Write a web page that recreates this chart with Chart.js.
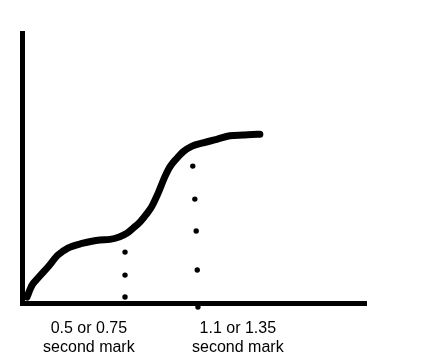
<!DOCTYPE html>
<html>
<head>
<meta charset="utf-8">
<script src="https://cdn.jsdelivr.net/npm/chart.js@4/dist/chart.umd.min.js"></script>
<style>
    body { margin: 0; background: #fff; }
    #wrap { width: 437px; height: 360px; }
</style>
</head>
<body>
<div id="wrap"><canvas id="curveChart"></canvas></div>
<script>
// Data kurva (satuan bebas, 0-100)
const curveX = [1.3, 2.8, 4.5, 7.4, 10.3, 13.2, 17.3, 22.5, 25.4, 28.3, 30.4, 32.1, 34.2, 36.2, 37.6, 39.4, 41.4, 42.9, 44.9, 46.7, 49.3, 52.5, 56.5, 60.3, 64.1, 68.2, 69.0];
const curveY = [2.4, 6.8, 9.4, 13.5, 17.9, 20.5, 22.2, 23.5, 23.7, 24.7, 26.0, 27.8, 30.2, 33.3, 35.9, 40.7, 46.9, 50.6, 53.7, 56.1, 58.2, 59.4, 60.7, 62.0, 62.3, 62.6, 62.6];

// Titik-titik garis putus-putus
const dotX = [29.8, 29.8, 29.8, 49.5, 50.1, 50.5, 50.8, 51.0];
const dotY = [19.0, 10.5, 2.4, 50.8, 38.6, 26.8, 12.4, -1.3];

// Label sumbu x
const tickValues = [19.3, 62.6];
const tickLabels = [
    ['0.5 or 0.75', 'second mark'],
    ['1.1 or 1.35', 'second mark']
];

const curvePoints = curveX.map((x, i) => ({ x: x, y: curveY[i] }));
const dotPoints = dotX.map((x, i) => ({ x: x, y: dotY[i] }));

const config = {
    type: 'line',
    data: {
        datasets: [{
            data: curvePoints,
            borderColor: '#000',
            borderWidth: 7,
            borderCapStyle: 'round',
            borderJoinStyle: 'round',
            cubicInterpolationMode: 'monotone',
            pointRadius: 0,
            fill: false
        }, {
            data: dotPoints,
            showLine: false,
            pointRadius: 2.7,
            pointBackgroundColor: '#000',
            pointBorderWidth: 0,
            clip: false
        }]
    },
    options: {
        responsive: true,
        maintainAspectRatio: false,
        animation: false,
        layout: {
            padding: { left: 22.5, top: 33, right: 70.5, bottom: 0 }
        },
        plugins: {
            legend: { display: false },
            tooltip: { enabled: false }
        },
        scales: {
            x: {
                type: 'linear',
                min: 0,
                max: 100,
                grid: { display: false },
                border: { display: true, color: '#000', width: 5 },
                afterBuildTicks: function(scale) {
                    scale.ticks = tickValues.map(v => ({ value: v }));
                },
                afterFit: function(scale) {
                    scale.height = 56.5;
                },
                ticks: {
                    autoSkip: false,
                    maxRotation: 0,
                    padding: 7,
                    color: '#000',
                    font: { family: "'Liberation Sans', Arial, sans-serif", size: 16 },
                    callback: function(value) {
                        const i = tickValues.indexOf(value);
                        return i >= 0 ? tickLabels[i] : '';
                    }
                }
            },
            y: {
                type: 'linear',
                min: 0,
                max: 100,
                grid: { display: false },
                border: { display: true, color: '#000', width: 5 },
                ticks: { display: false },
                afterFit: function(scale) {
                    scale.width = 0;
                }
            }
        }
    }
};

const curveChart = new Chart(document.getElementById('curveChart'), config);
</script>
</body>
</html>
